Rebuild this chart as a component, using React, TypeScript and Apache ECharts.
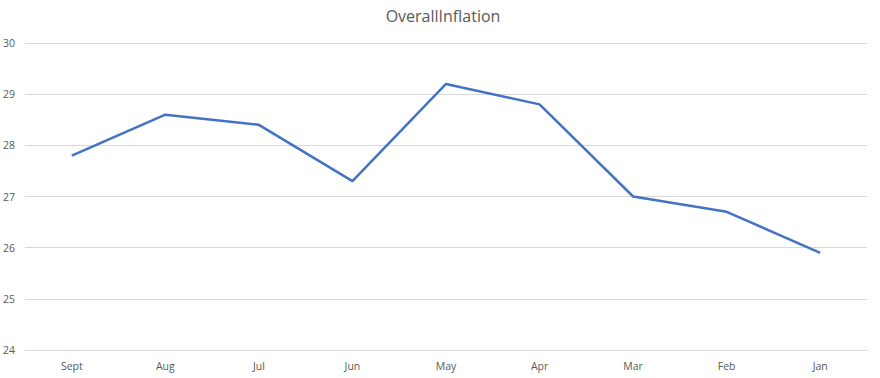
import React, { useEffect, useRef } from "react";
import * as echarts from "echarts";

const categories = ["Sept", "Aug", "Jul", "Jun", "May", "Apr", "Mar", "Feb", "Jan"];
const inflation = [27.8, 28.6, 28.4, 27.3, 29.2, 28.8, 27.0, 26.7, 25.9];
const yMin = 24;
const yMax = 30;
const yStep = 1;

export default function App() {
  const ref = useRef<HTMLDivElement>(null);
  useEffect(() => {
    if (!ref.current) return;
    const chart = echarts.init(ref.current, undefined, { renderer: "svg" });
    chart.setOption({
      animation: false,
      backgroundColor: "#ffffff",
      title: {
        text: "OverallInflation",
        left: 438,
        textAlign: "center",
        top: 3,
        textStyle: { fontFamily: "Open Sans", fontSize: 16, fontWeight: "normal", color: "#595959" },
      },
      grid: { left: 25, right: 13, top: 43, bottom: 28 },
      xAxis: {
        type: "category",
        data: categories,
        boundaryGap: true,
        axisLine: { show: true, lineStyle: { color: "#d9d9d9", width: 1 } },
        axisTick: { show: false },
        axisLabel: { color: "#595959", fontFamily: "Open Sans", fontSize: 10.5, margin: 10 },
      },
      yAxis: {
        type: "value",
        min: yMin,
        max: yMax,
        interval: yStep,
        axisLine: { show: false },
        axisTick: { show: false },
        axisLabel: { color: "#595959", fontFamily: "Open Sans", fontSize: 10.5, margin: 10 },
        splitLine: { lineStyle: { color: "#d9d9d9", width: 1 } },
      },
      series: [
        {
          type: "line",
          data: inflation,
          symbol: "none",
          lineStyle: { color: "#4472c4", width: 2.5 },
        },
      ],
    });
    return () => chart.dispose();
  }, []);
  return <div ref={ref} style={{ width: 880, height: 378, position: "absolute", left: 0, top: 0 }} />;
}
